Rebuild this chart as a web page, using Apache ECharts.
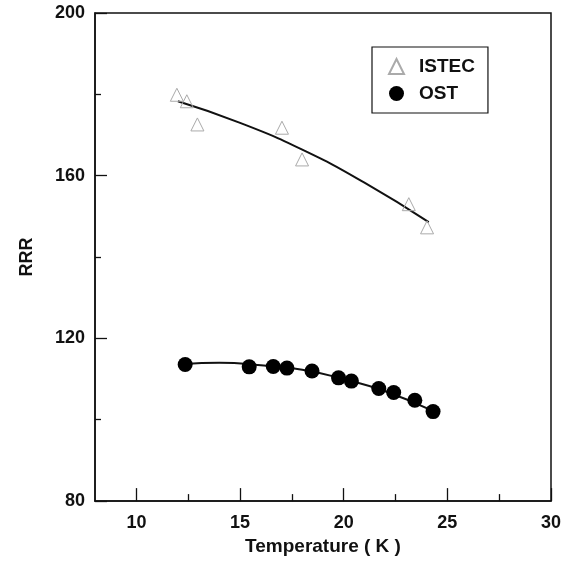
<!DOCTYPE html>
<html>
<head>
<meta charset="utf-8">
<script src="https://cdn.jsdelivr.net/npm/echarts@6/dist/echarts.min.js"></script>
<style>
  html, body { margin: 0; padding: 0; background: #fff; }
  #box { width: 577px; height: 561px; }
</style>
</head>
<body>
<div id="box"></div>
<script>
// measured points
const istecT = [11.95, 12.43, 12.94, 17.02, 17.99, 23.14, 24.02];
const istecRRR = [179.9, 178.3, 172.6, 171.8, 164.0, 153.0, 147.3];
const ostT = [12.35, 15.44, 16.6, 17.26, 18.47, 19.75, 20.37, 21.69, 22.41, 23.43, 24.31];
const ostRRR = [113.6, 113.0, 113.1, 112.7, 112.0, 110.3, 109.5, 107.7, 106.7, 104.8, 102.0];
// fitted curves
const istecFitT = [12.0, 15.0, 18.0, 21.0, 24.1];
const istecFitRRR = [178.3, 173.0, 166.4, 158.3, 148.6];
const ostFitT = [12.3, 14.0, 16.0, 18.0, 20.0, 22.0, 24.3];
const ostFitRRR = [113.7, 114.0, 113.4, 112.3, 110.0, 107.0, 102.2];
// ticks
const xMajor = [10, 15, 20, 25, 30];
const xMinor = [12.5, 17.5, 22.5, 27.5];

const zip = (a, b) => a.map((v, i) => [v, b[i]]);
const font = 'Liberation Sans, Arial, sans-serif';

const chart = echarts.init(document.getElementById('box'));
chart.setOption({
  animation: false,
  backgroundColor: '#fff',
  grid: {
    left: 95, right: 26, top: 13, bottom: 58,
    show: true, borderColor: '#111', borderWidth: 1.5
  },
  legend: {
    orient: 'vertical',
    left: 372, top: 47,
    padding: [10, 13, 10, 16],
    itemWidth: 15, itemHeight: 15, itemGap: 8,
    borderColor: '#111', borderWidth: 1.2,
    data: ['ISTEC', 'OST'],
    textStyle: { fontFamily: font, fontWeight: 'bold', fontSize: 19, color: '#111', padding: [0, 0, 0, 10] }
  },
  xAxis: [
    {
      type: 'value', min: 8, max: 30,
      name: 'Temperature ( K )', nameLocation: 'middle', nameGap: 34,
      nameTextStyle: { fontFamily: font, fontWeight: 'bold', fontSize: 19, color: '#111' },
      axisLine: { lineStyle: { color: '#111', width: 1.5 } },
      axisTick: { inside: true, length: 13, customValues: xMajor, lineStyle: { color: '#111', width: 1.3 } },
      axisLabel: { customValues: xMajor, margin: 13, fontFamily: font, fontWeight: 'bold', fontSize: 18, color: '#111' },
      splitLine: { show: false }
    },
    {
      type: 'value', min: 8, max: 30, position: 'bottom',
      axisLine: { show: false },
      axisTick: { inside: true, length: 7, customValues: xMinor, lineStyle: { color: '#111', width: 1.3 } },
      axisLabel: { show: false },
      splitLine: { show: false }
    }
  ],
  yAxis: {
    type: 'value', min: 80, max: 200, interval: 40,
    name: 'RRR', nameLocation: 'middle', nameGap: 59,
    nameTextStyle: { fontFamily: font, fontWeight: 'bold', fontSize: 18, color: '#111' },
    axisLine: { show: true, lineStyle: { color: '#111', width: 1.5 } },
    axisTick: { inside: true, length: 12, lineStyle: { color: '#111', width: 1.3 } },
    minorTick: { show: true, splitNumber: 2, length: 6, lineStyle: { color: '#111', width: 1.3 } },
    axisLabel: { margin: 10, fontFamily: font, fontWeight: 'bold', fontSize: 18, color: '#111' },
    splitLine: { show: false }
  },
  series: [
    {
      name: 'ISTEC fit', type: 'line', smooth: true, showSymbol: false, silent: true,
      data: zip(istecFitT, istecFitRRR),
      lineStyle: { color: '#111', width: 2 }
    },
    {
      name: 'OST fit', type: 'line', smooth: true, showSymbol: false, silent: true,
      data: zip(ostFitT, ostFitRRR),
      lineStyle: { color: '#111', width: 2 }
    },
    {
      name: 'ISTEC', type: 'scatter', symbol: 'triangle', symbolSize: 13,
      data: zip(istecT, istecRRR),
      itemStyle: { color: 'rgba(255,255,255,0)', borderColor: '#aaa', borderWidth: 1, opacity: 1 },
      z: 3
    },
    {
      name: 'OST', type: 'scatter', symbol: 'circle', symbolSize: 15,
      data: zip(ostT, ostRRR),
      itemStyle: { color: '#000', opacity: 1 },
      z: 3
    }
  ]
});
</script>
</body>
</html>
